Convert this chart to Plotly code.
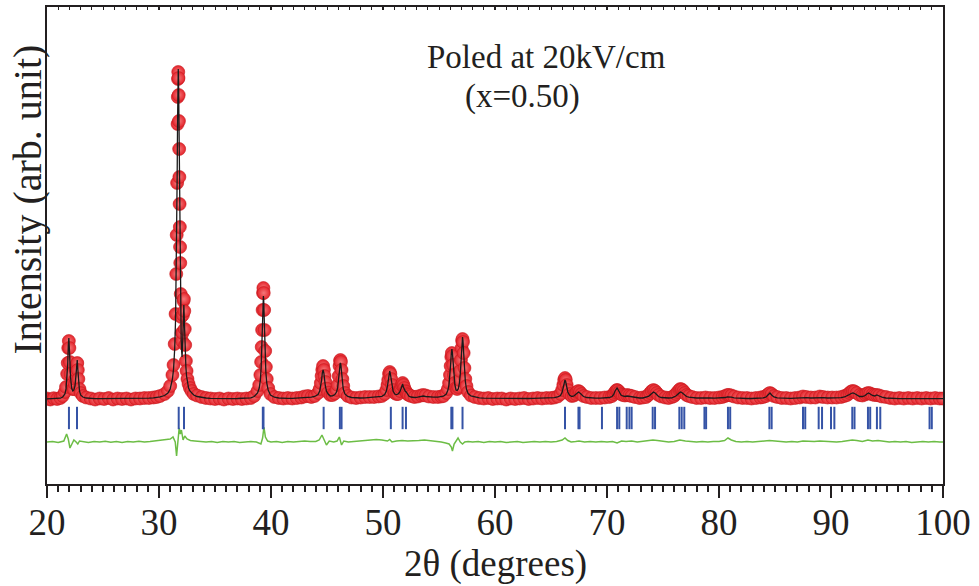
import plotly.graph_objects as go

# ---------------- data ----------------
two_theta = [
    20.0, 20.3, 20.6, 20.9, 21.2, 21.4, 21.6, 21.7, 21.8, 21.85,
    21.9, 21.95, 22.0, 22.05, 22.1, 22.2, 22.3, 22.4, 22.5, 22.55,
    22.6, 22.65, 22.7, 22.75, 22.8, 22.9, 23.0, 23.2, 23.5, 23.9,
    24.3, 24.7, 25.1, 25.5, 25.9, 26.3, 26.7, 27.1, 27.5, 27.9,
    28.3, 28.7, 29.1, 29.5, 29.8, 30.1, 30.5, 30.8, 31.0, 31.2,
    31.3, 31.4, 31.48, 31.54, 31.58, 31.62, 31.66, 31.68, 31.70, 31.72,
    31.74, 31.76, 31.78, 31.80, 31.82, 31.84, 31.86, 31.88, 31.90, 31.94,
    31.98, 32.02, 32.06, 32.10, 32.14, 32.18, 32.22, 32.26, 32.30, 32.34,
    32.40, 32.46, 32.54, 32.64, 32.76, 32.90, 33.10, 33.40, 33.80, 34.20,
    34.6, 35.0, 35.4, 35.8, 36.2, 36.6, 37.0, 37.4, 37.8, 38.2,
    38.5, 38.8, 38.95, 39.05, 39.12, 39.17, 39.21, 39.25, 39.29, 39.32,
    39.35, 39.39, 39.43, 39.48, 39.54, 39.62, 39.75, 39.95, 40.3, 40.7,
    41.1, 41.5, 41.9, 42.3, 42.7, 43.0, 43.3, 43.6, 43.9, 44.2,
    44.35, 44.45, 44.52, 44.58, 44.65, 44.72, 44.78, 44.85, 44.95, 45.1,
    45.3, 45.5, 45.7, 45.85, 45.95, 46.05, 46.12, 46.17, 46.2, 46.24,
    46.3, 46.37, 46.45, 46.6, 46.85, 47.2, 47.6, 48.0, 48.4, 48.8,
    49.2, 49.6, 49.9, 50.15, 50.3, 50.4, 50.47, 50.54, 50.6, 50.66,
    50.73, 50.8, 50.9, 51.05, 51.2, 51.35, 51.5, 51.6, 51.68, 51.75,
    51.82, 51.9, 52.0, 52.08, 52.18, 52.3, 52.5, 52.8, 53.1, 53.4,
    53.6, 53.8, 54.1, 54.5, 54.9, 55.2, 55.4, 55.65, 55.8, 55.9,
    55.98, 56.04, 56.10, 56.15, 56.20, 56.26, 56.33, 56.42, 56.52, 56.62,
    56.72, 56.82, 56.90, 56.96, 57.02, 57.07, 57.10, 57.14, 57.20, 57.27,
    57.35, 57.45, 57.60, 57.85, 58.2, 58.6, 59.0, 59.4, 59.8, 60.2,
    60.6, 61.0, 61.4, 61.8, 62.2, 62.6, 63.0, 63.4, 63.8, 64.2,
    64.6, 65.0, 65.3, 65.6, 65.85, 66.0, 66.1, 66.18, 66.25, 66.32,
    66.4, 66.5, 66.65, 66.85, 67.05, 67.2, 67.32, 67.45, 67.58, 67.72,
    67.9, 68.2, 68.6, 69.0, 69.4, 69.8, 70.2, 70.45, 70.6, 70.72,
    70.82, 70.9, 70.98, 71.1, 71.25, 71.4, 71.6, 71.8, 72.0, 72.2,
    72.5, 72.9, 73.2, 73.5, 73.7, 73.85, 74.0, 74.15, 74.3, 74.45,
    74.6, 74.85, 75.2, 75.5, 75.8, 76.0, 76.15, 76.3, 76.45, 76.55,
    76.68, 76.82, 76.95, 77.1, 77.3, 77.6, 78.0, 78.4, 78.8, 79.2,
    79.6, 80.0, 80.3, 80.55, 80.75, 80.9, 81.1, 81.35, 81.7, 82.1,
    82.5, 82.9, 83.3, 83.7, 83.95, 84.2, 84.4, 84.55, 84.7, 84.9,
    85.2, 85.6, 86.0, 86.4, 86.8, 87.2, 87.5, 87.8, 88.2, 88.6,
    89.0, 89.3, 89.7, 90.1, 90.5, 90.9, 91.2, 91.45, 91.65, 91.8,
    91.95, 92.1, 92.3, 92.55, 92.8, 93.05, 93.2, 93.35, 93.5, 93.7,
    93.9, 94.1, 94.3, 94.55, 94.9, 95.3, 95.7, 96.1, 96.5, 96.9,
    97.3, 97.7, 98.1, 98.5, 98.9, 99.3, 99.7, 100.0,
]

intensity_obs = [
    0.5, -0.5, 0.8, 0, 1, 3, 7, 12, 25, 36,
    51, 58, 51, 37, 25, 14, 10, 10, 15, 20,
    28, 35, 36, 29, 20, 10, 6, 3, 1.5, 0.5,
    -0.5, 0.5, 0, 1, -0.5, 0.5, 0, 0.5, -0.5, 0.5,
    0.5, 1, 1, 1.5, 2, 3, 5, 8, 13, 24,
    34, 55, 85, 125, 164, 216, 275, 302, 320, 327,
    321, 304, 278, 250, 222, 195, 172, 152, 136, 105,
    82, 66, 58, 66, 84, 98, 100, 88, 70, 54,
    38, 28, 20, 15, 11, 8, 5, 3.5, 2, 1,
    0.5, 0, 0.5, -0.5, 0.5, 0, 0.5, 0, 0.5, 1,
    3, 8, 14, 24, 37, 52, 69, 89, 106, 111,
    106, 89, 69, 48, 32, 20, 11, 5, 2, 1,
    0.5, 1, 0.5, 1, 1.5, 2.5, 3, 2, 3, 6,
    10, 16, 23, 29, 33, 29, 23, 17, 10.5, 6.5,
    4, 4, 5.5, 9, 14, 23, 33, 38, 39, 37,
    29, 20, 13, 6, 3, 1.5, 1, 1.5, 2, 2,
    2, 2.5, 3, 5, 9, 14, 19, 25, 27, 25,
    20, 14, 9, 6, 5, 5, 8, 11, 14, 16,
    14, 11, 8, 7, 5, 4, 3, 2, 2.5, 3.5,
    4, 3.5, 2.5, 2, 2, 2.5, 3, 6, 10, 16,
    24, 33, 42, 46, 43, 34, 24, 16, 11, 10,
    12, 19, 28, 39, 51, 58, 60, 57, 46, 31,
    20, 13, 7, 3.5, 2, 1, 0.5, 1, 0, 0.5,
    0.5, -0.5, 0.5, 0, 0.5, 1, 0, 0.5, 1, 0.5,
    1, 1, 1.5, 2.5, 5, 9, 14, 19, 21, 19,
    14, 9, 5, 3, 3.5, 5, 7, 8, 7, 5,
    3, 2, 1, 1, 1, 1.5, 2, 3, 5, 7,
    8.5, 9, 8.5, 7, 5, 4, 3.5, 4, 3.5, 3,
    2, 1, 1.5, 2, 4, 6, 8, 9, 8, 6,
    4, 2.5, 1.5, 1, 2, 3, 5, 7, 9, 10,
    9.5, 8, 6, 4, 3, 2, 1, 1, 1.5, 1,
    1, 1.5, 2, 3, 4, 4, 3.5, 2.5, 1.5, 1,
    1, 0.5, 1, 1.5, 2, 3, 5, 6, 5, 3,
    2, 1, 1, 0.5, 1, 1.5, 2.5, 2, 1.5, 1.5,
    2.5, 2, 1.5, 1.5, 1.5, 2, 3, 4, 6, 7.5,
    8, 7.5, 6, 4, 3.5, 4.5, 5.5, 6, 5.5, 4.5,
    4, 4, 3.5, 2.5, 2, 1, 0.5, 1, 0.5, 1,
    0.5, 1, 0.5, 1, 0.5, 1, 0.5, 0.5,
]

intensity_calc = [
    0.2, 0.3, 0.4, 0.5, 0.8, 2, 5, 10, 22, 35,
    53, 61, 50, 34, 22, 11, 8, 9, 13, 19,
    28, 37, 39, 30, 19, 8, 4, 2, 1, 0.5,
    0.3, 0.3, 0.3, 0.3, 0.3, 0.3, 0.4, 0.4, 0.4, 0.5,
    0.6, 0.7, 0.9, 1.2, 1.6, 2.2, 3.5, 6, 10, 20,
    30, 50, 80, 122, 165, 220, 280, 308, 325, 330,
    324, 305, 276, 244, 212, 180, 152, 128, 108, 80,
    60, 48, 42, 52, 74, 91, 94, 80, 62, 46,
    32, 23, 16, 11, 8, 6, 4, 2.5, 1.5, 1,
    0.7, 0.5, 0.4, 0.4, 0.4, 0.4, 0.5, 0.6, 0.8, 1.2,
    2.5, 6, 11, 19, 31, 46, 63, 83, 99, 103,
    99, 82, 62, 42, 27, 16, 9, 4, 1.8, 1,
    0.6, 0.6, 0.7, 0.8, 1, 1.4, 1.8, 1.8, 2.5, 4.5,
    8, 13, 19, 26, 29, 26, 19, 13, 8, 5,
    3, 3.2, 4.5, 7, 11, 19, 29, 35, 36, 34,
    26, 17, 10, 5, 2.5, 1.5, 1, 1, 1.2, 1.4,
    1.6, 2, 2.6, 4.5, 8, 13, 19, 25, 28, 25,
    19, 13, 8, 5, 4.5, 5, 7, 10, 13, 15,
    12, 9, 7.5, 7, 4.5, 3, 2, 1.5, 1.8, 2.5,
    3, 2.5, 2, 1.8, 1.8, 2.2, 2.8, 5, 9, 15,
    24, 35, 46, 50, 46, 35, 23, 14, 9, 8.5,
    10, 16, 25, 37, 51, 60, 62, 58, 45, 29,
    18, 10, 5.5, 3, 1.8, 1.2, 0.9, 0.8, 0.7, 0.6,
    0.5, 0.5, 0.5, 0.5, 0.5, 0.5, 0.5, 0.6, 0.6, 0.7,
    0.8, 1, 1.3, 2, 3.5, 7, 12, 17, 19, 17,
    11, 7, 4, 2.5, 3, 4.5, 6.5, 7, 6, 4,
    2.5, 1.5, 1, 0.8, 0.8, 1, 1.5, 2.5, 4.5, 8,
    10.5, 11, 9.5, 6.5, 4, 3, 2.5, 3, 2.5, 2,
    1.5, 1, 1, 1.5, 2.5, 4, 6, 7, 6, 4,
    2.5, 1.5, 1, 1, 1.2, 2, 3, 4.5, 6.5, 7,
    6.5, 5, 3.5, 2.5, 1.8, 1.2, 1, 1, 1.2, 1,
    0.8, 0.9, 1, 1.5, 2.2, 2.2, 1.8, 1.2, 0.8, 0.6,
    0.5, 0.5, 0.6, 0.8, 1.2, 2, 4, 6, 4, 2,
    1.2, 0.8, 0.6, 0.6, 0.8, 1.2, 1.8, 1.4, 1, 1.2,
    1.8, 1.4, 1, 1, 1, 1.3, 2, 3, 4.5, 5.5,
    6, 5.5, 4, 2.5, 2.5, 3.5, 5, 6, 5, 3.5,
    3, 4, 3, 1.8, 1, 0.6, 0.4, 0.4, 0.3, 0.3,
    0.3, 0.3, 0.3, 0.3, 0.3, 0.3, 0.3, 0.3,
]

two_theta_diff = [
    20.0, 20.5, 21.0, 21.5, 21.75, 21.9, 22.05, 22.2, 22.4, 22.6,
    22.75, 22.9, 23.2, 23.7, 24.2, 24.7, 25.2, 25.7, 26.2, 26.7,
    27.2, 27.7, 28.2, 28.7, 29.2, 29.7, 30.2, 30.7, 31.0, 31.25,
    31.45, 31.57, 31.68, 31.8, 31.9, 32.0, 32.15, 32.3, 32.5, 32.8,
    33.2, 33.7, 34.2, 34.7, 35.2, 35.7, 36.2, 36.7, 37.2, 37.7,
    38.2, 38.7, 39.1, 39.25, 39.37, 39.5, 39.7, 40.0, 40.5, 41.0,
    41.5, 42.0, 42.5, 43.0, 43.5, 44.0, 44.3, 44.55, 44.75, 44.95,
    45.2, 45.6, 45.9, 46.1, 46.3, 46.5, 46.9, 47.4, 47.9, 48.4,
    48.9, 49.4, 49.9, 50.4, 50.6, 50.8, 51.2, 51.7, 52.2, 52.7,
    53.2, 53.7, 54.2, 54.7, 55.2, 55.6, 55.9, 56.1, 56.2, 56.35,
    56.55, 56.7, 56.9, 57.1, 57.3, 57.6, 58.0, 58.5, 59.0, 59.5,
    60.0, 60.5, 61.0, 61.5, 62.0, 62.5, 63.0, 63.5, 64.0, 64.5,
    65.0, 65.5, 66.0, 66.25, 66.5, 66.8, 67.2, 67.5, 68.0, 68.5,
    69.0, 69.5, 70.0, 70.5, 70.9, 71.3, 71.7, 72.2, 72.7, 73.2,
    73.7, 74.1, 74.5, 75.0, 75.5, 76.0, 76.5, 77.0, 77.5, 78.0,
    78.5, 79.0, 79.5, 80.0, 80.5, 80.8, 81.1, 81.5, 82.0, 82.5,
    83.0, 83.5, 84.0, 84.5, 85.0, 85.5, 86.0, 86.5, 87.0, 87.5,
    88.0, 88.5, 89.0, 89.5, 90.0, 90.5, 91.0, 91.5, 91.9, 92.3,
    92.8, 93.3, 93.7, 94.2, 94.7, 95.2, 95.7, 96.2, 96.7, 97.2,
    97.7, 98.2, 98.7, 99.2, 99.7, 100.0,
]

difference = [
    0, 0.5, -0.5, 1, 8, 3, -6, -2, 2, 0,
    -2, 1, 0.5, -0.5, 0.5, 0, 0.8, -0.3, 0.5, -0.5,
    0.5, 0, 0.7, 0, 0.5, 1, 1.5, 2, 3, 5,
    0, -14, -3, 14, 8, 12, 2, 6, 3, 1.5,
    1, 0.5, 0, 0.5, -0.5, 0.5, 0, 0.5, -0.5, 0,
    0.5, 0, -2, 4, 15, 5, 1, 0, 0.5, -0.5,
    0.5, 0, 0.5, 1, 0.5, 0.5, 2, 7, 2, -3,
    1, 0, 1, 5, -3, 1, 0, 0.5, 1, 1.5,
    2, 2.5, 2, 1, 2.5, 0, 1, 1.5, 1, 1,
    1.5, 2, 1.5, 1, 0, -1, -2, -5, -9, -2,
    1, 4, 0, -2, 0, 0.5, 0, 0.5, -0.5, 0.5,
    0, 0.5, -0.5, 0, 0.5, -0.5, 0, 0.5, 0, 0.5,
    0, 0.5, 2, 4, 1.5, 0, 0.5, 1, 0, 0.5,
    0, 0.5, 0, 0.5, -1, 1, 0.5, 1, 0, 0.5,
    1, 2, 1.5, 0.5, 0, 0.5, 2, 1, 0.5, 0,
    0.5, 0, 0.5, 0.5, 1.5, 4, 2, 0.5, 0, 0.5,
    0, 0.5, 0.5, 1.5, 1, 0.5, 0, 0.5, 0, 1,
    0.5, 0.5, 1, 0.5, 0.5, 0, 0.5, 1, 2, 1.5,
    0.5, 2, 1, 1.5, 0.5, 0, 0.5, 0, 0.5, -0.5,
    0, 0.5, 0, 0.5, 0, 0,
]

bragg_positions = [
    21.96, 22.68, 31.76, 32.23, 39.27, 39.33, 44.70, 46.15, 46.30, 50.70,
    51.75, 52.05, 56.10, 56.20, 57.10, 66.25, 67.45, 67.55, 69.55, 70.90,
    71.10, 71.76, 72.00, 72.20, 74.08, 74.29, 76.46, 76.67, 76.90, 78.70,
    78.85, 80.80, 81.00, 84.50, 84.70, 87.50, 87.70, 88.90, 89.20, 90.00,
    90.30, 91.90, 92.10, 93.30, 93.50, 94.10, 94.40, 98.80, 99.00,
]

x_ticks = [20, 30, 40, 50, 60, 70, 80, 90, 100]

# ---------------- style / placement ----------------
DIFF_OFFSET = -43
BRAGG_LEVEL = -19
FONT = "Liberation Serif"
AXIS_COLOR = "#231f20"

n = min(len(two_theta), len(intensity_obs), len(intensity_calc))
nd = min(len(two_theta_diff), len(difference))

fig = go.Figure()

fig.add_trace(go.Scatter(
    x=two_theta[:n], y=intensity_obs[:n], mode="markers",
    marker=dict(size=13, color="#e4242b",
                gradient=dict(type="radial", color="#f4787a"),
                line=dict(width=0.6, color="#c8191f")),
    showlegend=False, hoverinfo="skip"))

fig.add_trace(go.Scatter(
    x=two_theta[:n], y=intensity_calc[:n], mode="lines",
    line=dict(color="#1a1a1a", width=1.3),
    showlegend=False))

fig.add_trace(go.Scatter(
    x=two_theta_diff[:nd], y=[d + DIFF_OFFSET for d in difference[:nd]],
    mode="lines", line=dict(color="#6cbd45", width=1.5),
    showlegend=False))

fig.add_trace(go.Scatter(
    x=bragg_positions, y=[BRAGG_LEVEL] * len(bragg_positions), mode="markers",
    marker=dict(symbol="line-ns", size=16, line=dict(width=2, color="#3553a6")),
    showlegend=False))

# invisible trace for the top axis
fig.add_trace(go.Scatter(x=[20, 100], y=[0, 0], xaxis="x2", mode="markers",
                         marker=dict(opacity=0), showlegend=False, hoverinfo="skip"))

fig.update_layout(
    width=979, height=586,
    margin=dict(l=47, r=36, t=7, b=102),
    paper_bgcolor="white", plot_bgcolor="white",
    font=dict(family=FONT, color=AXIS_COLOR),
    xaxis=dict(range=[20, 100], tickvals=x_ticks, ticktext=[str(t) for t in x_ticks],
               ticks="outside", ticklen=12, tickwidth=2, tickcolor=AXIS_COLOR,
               ticklabelstandoff=-7,
               minor=dict(ticks="outside", ticklen=6, tickwidth=1.5, dtick=1, tick0=20,
                          tickcolor=AXIS_COLOR),
               showline=True, linewidth=2, linecolor=AXIS_COLOR, mirror=False,
               showgrid=False, zeroline=False,
               tickfont=dict(family=FONT, size=37, color=AXIS_COLOR)),
    xaxis2=dict(range=[20, 100], overlaying="x", side="top", anchor="y",
                tickvals=x_ticks, showticklabels=False,
                ticks="inside", ticklen=3, tickwidth=1.5, tickcolor=AXIS_COLOR,
                minor=dict(ticks="inside", ticklen=3, tickwidth=1, dtick=1, tick0=20,
                           tickcolor=AXIS_COLOR),
                showline=True, linewidth=2, linecolor=AXIS_COLOR,
                showgrid=False, zeroline=False),
    yaxis=dict(range=[-85, 392], showticklabels=False, ticks="",
               showline=True, linewidth=2, linecolor=AXIS_COLOR, mirror=True,
               showgrid=False, zeroline=False),
    annotations=[
        dict(text="2θ (degrees)", xref="paper", yref="paper", x=0.5, y=-0.168,
             xanchor="center", yanchor="middle", showarrow=False,
             font=dict(family=FONT, size=37, color=AXIS_COLOR)),
        dict(text="Intensity (arb. unit)", xref="paper", yref="paper", x=-0.022, y=0.597,
             xanchor="center", yanchor="middle", showarrow=False, textangle=-90,
             font=dict(family=FONT, size=40, color=AXIS_COLOR)),
        dict(text="Poled at 20kV/cm", xref="paper", yref="paper", x=0.557, y=0.895,
             xanchor="center", yanchor="middle", showarrow=False,
             font=dict(family=FONT, size=33, color=AXIS_COLOR)),
        dict(text="(x=0.50)", xref="paper", yref="paper", x=0.531, y=0.813,
             xanchor="center", yanchor="middle", showarrow=False,
             font=dict(family=FONT, size=33, color=AXIS_COLOR)),
    ],
)

fig.write_html("out.html")
